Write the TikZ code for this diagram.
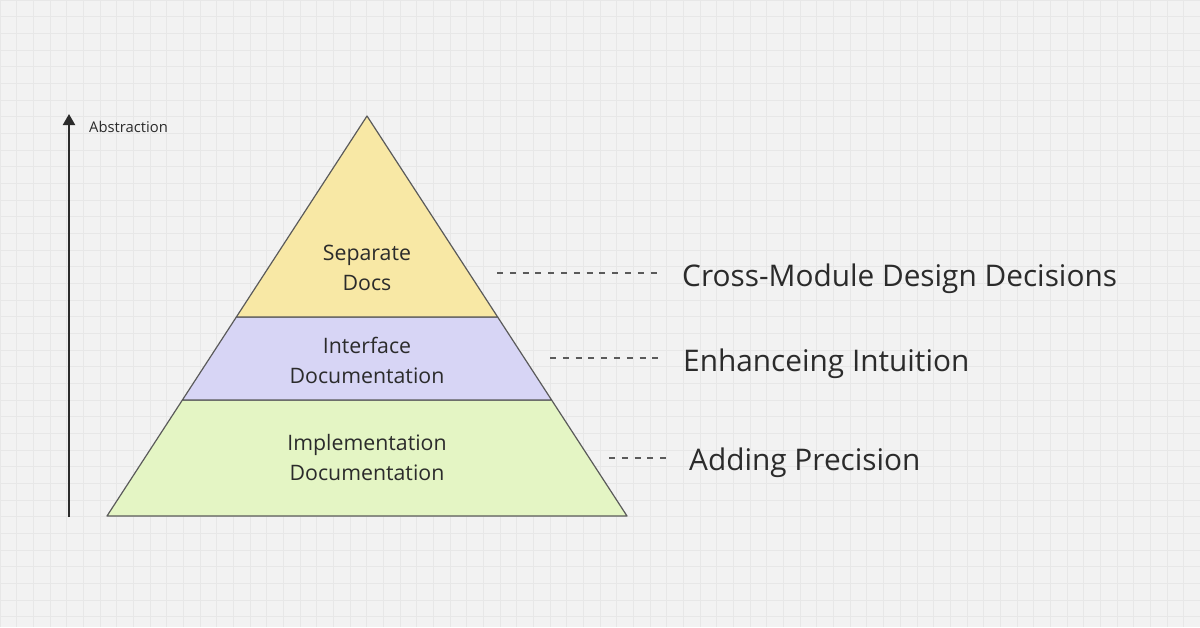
\documentclass[tikz,border=0pt]{standalone}
\usepackage{fontspec}
\setmainfont{Open Sans}
\usetikzlibrary{arrows.meta,calc}
\definecolor{bgcol}{HTML}{F2F2F2}
\definecolor{gridcol}{HTML}{E7E7E7}
\definecolor{edgecol}{HTML}{5A5A5A}
\definecolor{topcol}{HTML}{F8E8A5}
\definecolor{midcol}{HTML}{D7D5F5}
\definecolor{lowcol}{HTML}{E4F5C4}
\definecolor{inkcol}{HTML}{2B2B2B}
\begin{document}
\begin{tikzpicture}[x=1pt,y=-1pt,
  layer/.style={draw=edgecol,line width=1.2pt,line join=round},
  tier/.style={align=center,font=\fontsize{21.3}{30}\selectfont,text=inkcol},
  note/.style={anchor=west,inner sep=0pt,font=\fontsize{29.8}{34}\selectfont,text=inkcol},
  dashline/.style={draw=edgecol,line width=1.2pt,dash pattern=on 6pt off 6.8pt},
  axis/.style={draw=inkcol,line width=2pt,-{Triangle[length=11pt,width=12pt]}}]
 \useasboundingbox (0,0) rectangle (1200,627);
 \fill[bgcol](0,0) rectangle (1200,627);
 \draw[step=16.67pt,gridcol,line width=0.7pt](0,0) grid (1200,627);
 % pyramid
 \coordinate (apex) at (367,116);
 \coordinate (bl) at (107,516);
 \coordinate (br) at (627,516);
 \coordinate (ul) at ($(apex)!0.5025!(bl)$);
 \coordinate (ur) at ($(apex)!0.5025!(br)$);
 \coordinate (ml) at ($(apex)!0.71!(bl)$);
 \coordinate (mr) at ($(apex)!0.71!(br)$);
 \draw[layer,fill=lowcol](ml)--(mr)--(br)--(bl)--cycle;
 \draw[layer,fill=midcol](ul)--(ur)--(mr)--(ml)--cycle;
 \draw[layer,fill=topcol](apex)--(ur)--(ul)--cycle;
 \node[tier] (docs) at (367,268) {Separate\\Docs};
 \node[tier] (iface) at (367,360) {Interface\\Documentation};
 \node[tier] (impl) at (367,458) {Implementation\\Documentation};
 % axis
 \coordinate (foot) at (69,517);
 \coordinate (tip) at (69,114);
 \draw[axis](foot)--(tip);
 \node[anchor=west,inner sep=0pt,font=\fontsize{14.8}{17}\selectfont,text=inkcol] (abstr) at (89,127) {Abstraction};
 % notes
 \node[note] (cross) at (682,279) {Cross-Module Design Decisions};
 \node[note] (intui) at (683,364) {Enhanceing Intuition};
 \node[note] (prec) at (689,463) {Adding Precision};
 \coordinate (d1) at (497,273);
 \coordinate (d2) at (550,358);
 \coordinate (d3) at (609,458);
 \draw[dashline](d1)--(d1-|663,0);
 \draw[dashline](d2)--(d2-|663,0);
 \draw[dashline](d3)--(d3-|669,0);
\end{tikzpicture}
\end{document}
